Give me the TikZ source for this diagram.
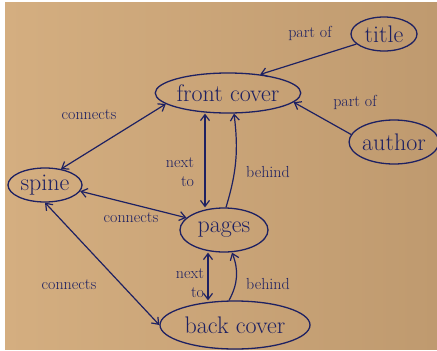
\documentclass[tikz,border=0pt]{standalone}
\usepackage{tikz}
\usetikzlibrary{arrows.meta,shapes.geometric}
\definecolor{PaperLight}{HTML}{D4AE80}
\definecolor{PaperDark}{HTML}{BF9A6F}
\definecolor{InkBlue}{HTML}{1E2162}
\tikzset{
  concept/.style={ellipse,draw=InkBlue,line width=1.3pt,inner sep=0pt,text=InkBlue,
    font=\fontsize{24}{28}\selectfont},
  lbl/.style={text=InkBlue,align=right,inner sep=0pt,font=\fontsize{16}{19}\selectfont},
  rel/.style={{Straight Barb[length=6pt,width=9pt]}-{Straight Barb[length=6pt,width=9pt]},
    line width=1.2pt,draw=InkBlue},
  oneway/.style={-{Straight Barb[length=6pt,width=9pt]},line width=1.2pt,draw=InkBlue}
}

\begin{document}
\begin{tikzpicture}[x=1pt,y=-1pt]
  \useasboundingbox (0,0) rectangle (437,351);
  \fill[white] (0,0) rectangle (437,351);
  \shade[shading angle=135,left color=PaperLight,right color=PaperDark] (5,2) rectangle (437,349);
  % concepts
  \node[concept,minimum width=137pt,minimum height=40pt] (front) at (228,93) {front cover};
  \node[concept,minimum width=66pt,minimum height=34pt] (title) at (384,34) {title};
  \node[concept,minimum width=84pt,minimum height=44pt] (author) at (394,142) {author};
  \node[concept,minimum width=74pt,minimum height=34pt] (spine) at (45,185) {spine};
  \node[concept,minimum width=88pt,minimum height=44pt] (pages) at (224,230) {pages};
  \node[concept,minimum width=150pt,minimum height=48pt] (back) at (235,325) {back cover};
  % relations
  \draw[oneway] (title.200) -- (front.30);
  \draw[oneway] (author.170) -- (front.352);
  \draw[rel] (spine.45) -- (front.190);
  \draw[rel] ([xshift=-23pt]front.south) -- ([xshift=-19pt]pages.north);
  \draw[oneway] ([xshift=2pt]pages.north) to[bend right=12] ([xshift=6pt]front.south);
  \draw[rel] (spine.350) -- (pages.162);
  \draw[rel] ([xshift=-16pt]pages.south) -- ([xshift=-27pt]back.north);
  \draw[oneway] ([xshift=-6pt]back.north) to[bend right=25] ([xshift=8pt]pages.south);
  \draw[rel] (spine.south) -- (back.west);
  % labels
  \node[lbl] (partTitle) at (310,33) {part of};
  \node[lbl] (partAuthor) at (355,102) {part of};
  \node[lbl] (conFront) at (89,115) {connects};
  \node[lbl] (nextFront) at (180,172) {next\\to};
  \node[lbl] (behindFront) at (268,172) {behind};
  \node[lbl] (conPages) at (131,218) {connects};
  \node[lbl] (nextBack) at (190,283) {next\\to};
  \node[lbl] (behindBack) at (268,284) {behind};
  \node[lbl] (conBack) at (69,285) {connects};
\end{tikzpicture}
\end{document}
